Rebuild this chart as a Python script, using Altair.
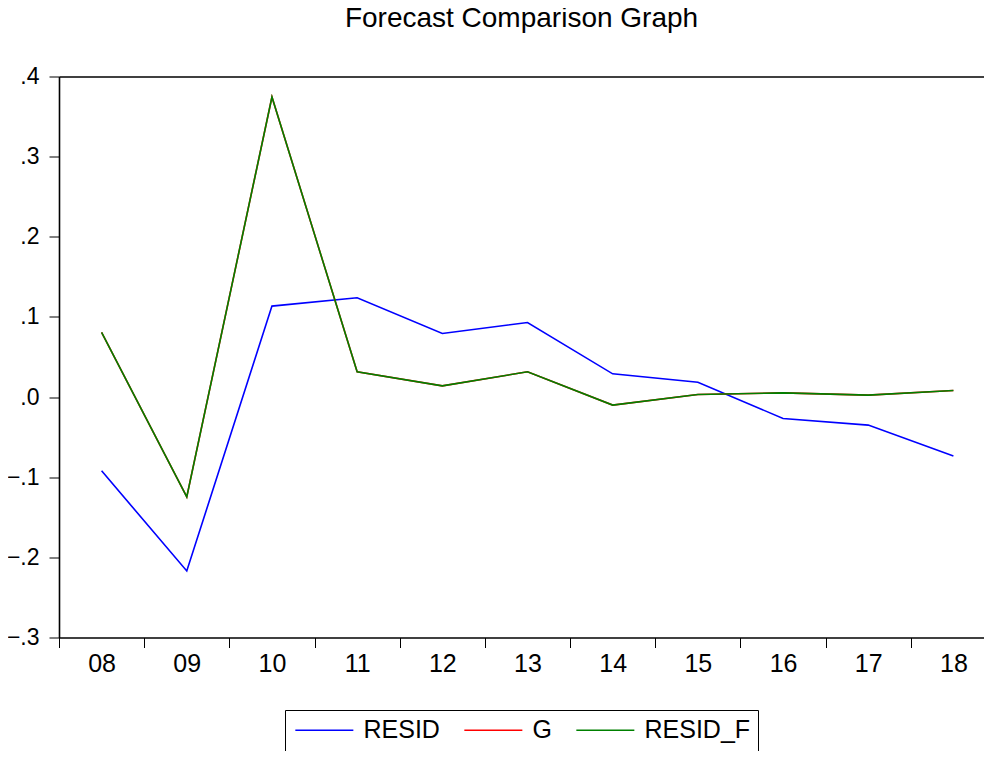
import altair as alt
import pandas as pd

years = ["08", "09", "10", "11", "12", "13", "14", "15", "16", "17", "18"]
resid = [-0.092, -0.217, 0.1135, 0.124, 0.0794, 0.0931, 0.029, 0.0186, -0.0267, -0.035, -0.0734]
g = [0.0806, -0.1246, 0.3744, 0.0315, 0.014, 0.0315, -0.010, 0.0032, 0.0052, 0.0024, 0.0082]
resid_f = [0.0806, -0.1246, 0.3744, 0.0315, 0.014, 0.0315, -0.010, 0.0032, 0.0052, 0.0024, 0.0082]
series_names = ["RESID", "G", "RESID_F"]
series_colors = ["#0000FF", "#FF0000", "#008000"]

rows = []
for name, vals in zip(series_names, [resid, g, resid_f]):
    for yr, v in zip(years, vals):
        rows.append({"year": yr, "value": v, "series": name})
df = pd.DataFrame(rows)

FONT = "Liberation Sans"

x_scale = alt.Scale(domain=years, paddingInner=0, paddingOuter=0, range=[0, 937])
y_scale = alt.Scale(domain=[-0.3, 0.4], nice=False, zero=False)

lines = alt.Chart(df).mark_line(strokeWidth=1.6).encode(
    x=alt.X("year:O", scale=x_scale, sort=years,
            axis=alt.Axis(title=None, labelAngle=0, tickBand="extent",
                          tickSize=10, tickColor="black", tickWidth=1,
                          domainColor="black", domainWidth=1.6,
                          labelFontSize=25, labelPadding=4, labelColor="black",
                          labelFont=FONT)),
    y=alt.Y("value:Q", scale=y_scale,
            axis=alt.Axis(title=None, values=[-0.3, -0.2, -0.1, 0.0, 0.1, 0.2, 0.3, 0.4],
                          labelExpr="replace(format(datum.value, '.1f'), '0.', '.')",
                          tickSize=10, tickColor="black", tickWidth=1,
                          domainColor="black", domainWidth=1.6, grid=False,
                          labelFontSize=23, labelPadding=10, labelColor="black",
                          labelFont=FONT)),
    color=alt.Color("series:N",
                    scale=alt.Scale(domain=series_names, range=series_colors),
                    legend=alt.Legend(title=None, orient="none", direction="horizontal",
                                      columns=3, legendX=226, legendY=633.5,
                                      symbolType="M-1,0H5", symbolSize=374,
                                      symbolStrokeWidth=1.6, symbolFillColor="transparent",
                                      labelFontSize=25,
                                      labelFont=FONT, labelColor="black",
                                      labelOffset=46, columnPadding=20,
                                      padding=7.5, strokeColor="black",
                                      fillColor="white")),
)

top_frame = alt.Chart(df).mark_line(opacity=0).encode(
    x=alt.X("year:O", scale=x_scale, sort=years,
            axis=alt.Axis(orient="top", title=None, labels=False, ticks=False,
                          minExtent=0, maxExtent=0,
                          domainColor="black", domainWidth=1.6)),
    y=alt.Y("value:Q", scale=y_scale, axis=None),
)

chart = alt.layer(lines, top_frame).resolve_axis(x="independent", y="independent").properties(
    width=925,
    height=561,
    autosize=alt.AutoSizeParams(type="none"),
    padding={"left": 51, "top": 68.5, "right": 0, "bottom": 113.5},
    title=alt.TitleParams("Forecast Comparison Graph", fontSize=28, font=FONT,
                          fontWeight="normal", color="black", anchor="middle",
                          baseline="alphabetic", offset=11),
).configure_view(stroke=None)

chart.save("out.html", embed_options={"renderer": "svg", "actions": False})
